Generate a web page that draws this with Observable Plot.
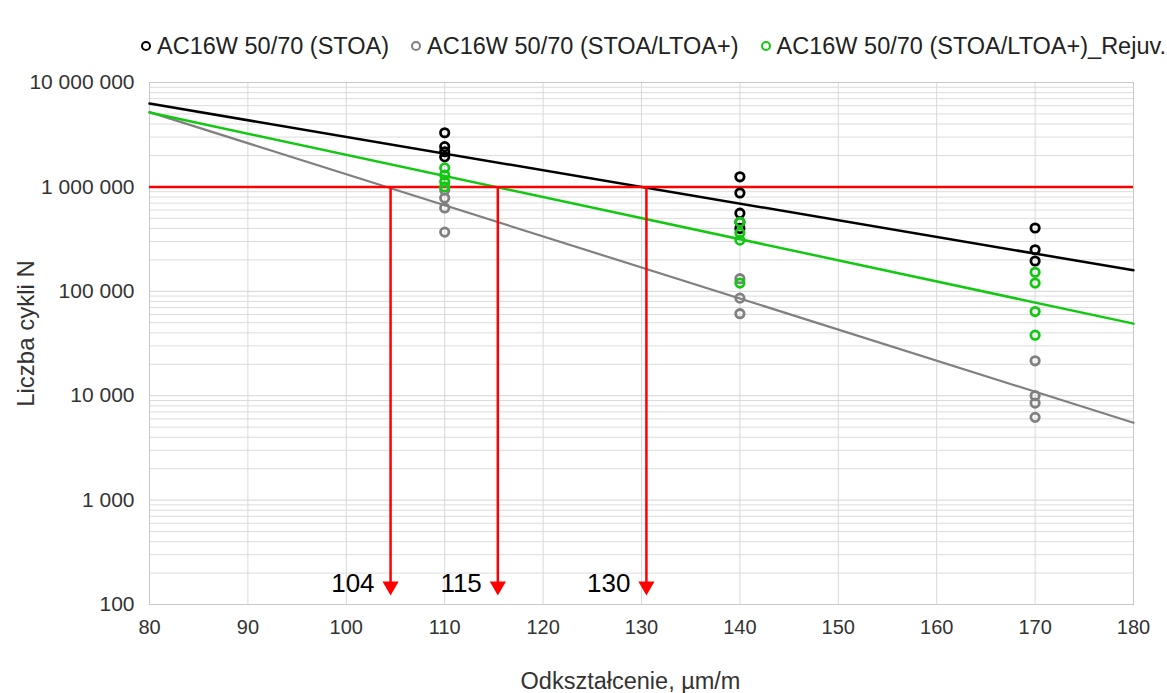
<!DOCTYPE html>
<html><head><meta charset="utf-8">
<script src="https://cdn.jsdelivr.net/npm/d3@7"></script>
<script src="https://cdn.jsdelivr.net/npm/@observablehq/plot@0.6"></script>
<style>
body{margin:0;background:#fff;font-family:"Liberation Sans",Arial,sans-serif;}
#wrap{position:relative;width:1167px;height:693px;overflow:hidden;background:#fff}
#legend{height:62px;display:flex;align-items:center;padding-left:141px;font-size:23.5px;color:#222;box-sizing:border-box;padding-top:30px}
.item{display:flex;align-items:center;margin-right:22px;white-space:nowrap}
.mk{width:6px;height:6px;border-radius:50%;border:2.5px solid;margin-right:6px}
</style></head><body><div id="wrap"><div id="legend"></div><div id="chart"></div></div>
<script>
// Series
const seriesNames = ["AC16W 50/70 (STOA)", "AC16W 50/70 (STOA/LTOA+)", "AC16W 50/70 (STOA/LTOA+)_Rejuv."];
const seriesColors = ["#000000", "#808080", "#12c812"];

// Measured points (strain µm/m, cycles N)
const stoaX = [110,110,110,110, 140,140,140,140,140, 170,170,170];
const stoaN = [3.3e6,2.43e6,2.17e6,1.94e6, 1.25e6,875e3,560e3,460e3,400e3, 404e3,250e3,195e3];
const ltoaX = [110,110,110,110, 140,140,140, 170,170,170,170];
const ltoaN = [935e3,783e3,628e3,369e3, 132e3,86e3,61e3, 21.6e3,10e3,8.5e3,6.2e3];
const rejX  = [110,110,110,110, 140,140,140,140, 170,170,170,170];
const rejN  = [1.52e6,1.30e6,1.12e6,1.0e6, 460e3,361e3,309e3,120e3, 152e3,120e3,64e3,38e3];

// Fitted lines (end points)
const fitX = [80, 180];
const stoaFit = [6.28e6, 1.59e5];
const ltoaFit = [5.2e6, 5.5e3];
const rejFit  = [5.15e6, 4.9e4];

// Reference level and read-off strains
const refN = 1e6;
const crossX = [104.5, 115.4, 130.5];
const crossLabels = ["104", "115", "130"];
const arrowEndN = 150;
const labelN = 159;

// Axes
const xTitle = "Odkształcenie, µm/m";
const yTitle = "Liczba cykli N";
const xTicks = [80,90,100,110,120,130,140,150,160,170,180];
const yTicks = [100,1000,10000,100000,1000000,10000000];
const minorY = yTicks.slice(0,-1).flatMap(d => [2,3,4,5,6,7,8,9].map(k => k*d));

const fmt = d3.formatLocale({decimal:",", thousands:" ", grouping:[3], currency:["",""]}).format(",d");

const pts = (xs, ns) => xs.map((x,i) => ({x, n: ns[i]}));
const fit = ns => fitX.map((x,i) => ({x, n: ns[i]}));

// legend
const lg = document.getElementById("legend");
seriesNames.forEach((s,i) => {
  const it = document.createElement("div"); it.className = "item";
  const mk = document.createElement("span"); mk.className = "mk"; mk.style.borderColor = seriesColors[i];
  const tx = document.createElement("span"); tx.textContent = s;
  it.append(mk, tx); lg.append(it);
});

const chart = Plot.plot({
  width: 1167, height: 631,
  marginLeft: 149, marginRight: 34, marginTop: 20, marginBottom: 89,
  style: {fontFamily: "Liberation Sans, Arial, sans-serif", fontSize: "21px", color: "#333", background: "#fff"},
  x: {domain: [80, 180]},
  y: {type: "log", domain: [100, 1e7]},
  marks: [
    Plot.ruleY(minorY, {stroke: "#dcdcdc", strokeWidth: 1}),
    Plot.ruleY(yTicks, {stroke: "#d4d4d4", strokeWidth: 1}),
    Plot.ruleX(xTicks, {stroke: "#d9d9d9", strokeWidth: 1}),
    Plot.frame({stroke: "#c8c8c8"}),
    Plot.axisX({ticks: xTicks, tickSize: 0, tickPadding: 15, fontSize: 20, label: null}),
    Plot.axisY({ticks: yTicks, tickSize: 0, tickPadding: 15, tickFormat: fmt, fontSize: 21, label: null}),
    Plot.text([xTitle], {frameAnchor: "bottom", text: d => d, dy: 77, dx: -11, lineAnchor: "middle", fontSize: 23.5, fill: "#333"}),
    Plot.text([yTitle], {frameAnchor: "left", text: d => d, dx: -123, dy: -10, rotate: -90, textAnchor: "middle", lineAnchor: "middle", fontSize: 24, fill: "#333"}),
    Plot.line(fit(ltoaFit), {x: "x", y: "n", stroke: seriesColors[1], strokeWidth: 2.2}),
    Plot.line(fit(rejFit), {x: "x", y: "n", stroke: seriesColors[2], strokeWidth: 2.5}),
    Plot.line(fit(stoaFit), {x: "x", y: "n", stroke: seriesColors[0], strokeWidth: 2.5}),
    Plot.ruleY([refN], {x1: 80, x2: 180, stroke: "#ff0000", strokeWidth: 2.5}),
    Plot.ruleX(crossX, {y1: refN, y2: arrowEndN, stroke: "#ff0000", strokeWidth: 2.5}),
    Plot.dot(crossX, {x: d => d, y: () => arrowEndN, symbol: "triangle", rotate: 180, r: 6, fill: "#ff0000", stroke: "none"}),
    Plot.text(crossX, {x: d => d, y: () => labelN, text: (d,i) => crossLabels[i], textAnchor: "end", dx: -16, fontSize: 26, fill: "#000"}),
    Plot.dot(pts(ltoaX, ltoaN), {x: "x", y: "n", r: 4.2, stroke: seriesColors[1], strokeWidth: 2.8, fill: "none"}),
    Plot.dot(pts(stoaX, stoaN), {x: "x", y: "n", r: 4.2, stroke: seriesColors[0], strokeWidth: 2.8, fill: "none"}),
    Plot.dot(pts(rejX, rejN), {x: "x", y: "n", r: 4.2, stroke: seriesColors[2], strokeWidth: 2.8, fill: "none"})
  ]
});
document.getElementById("chart").append(chart);
</script></body></html>
